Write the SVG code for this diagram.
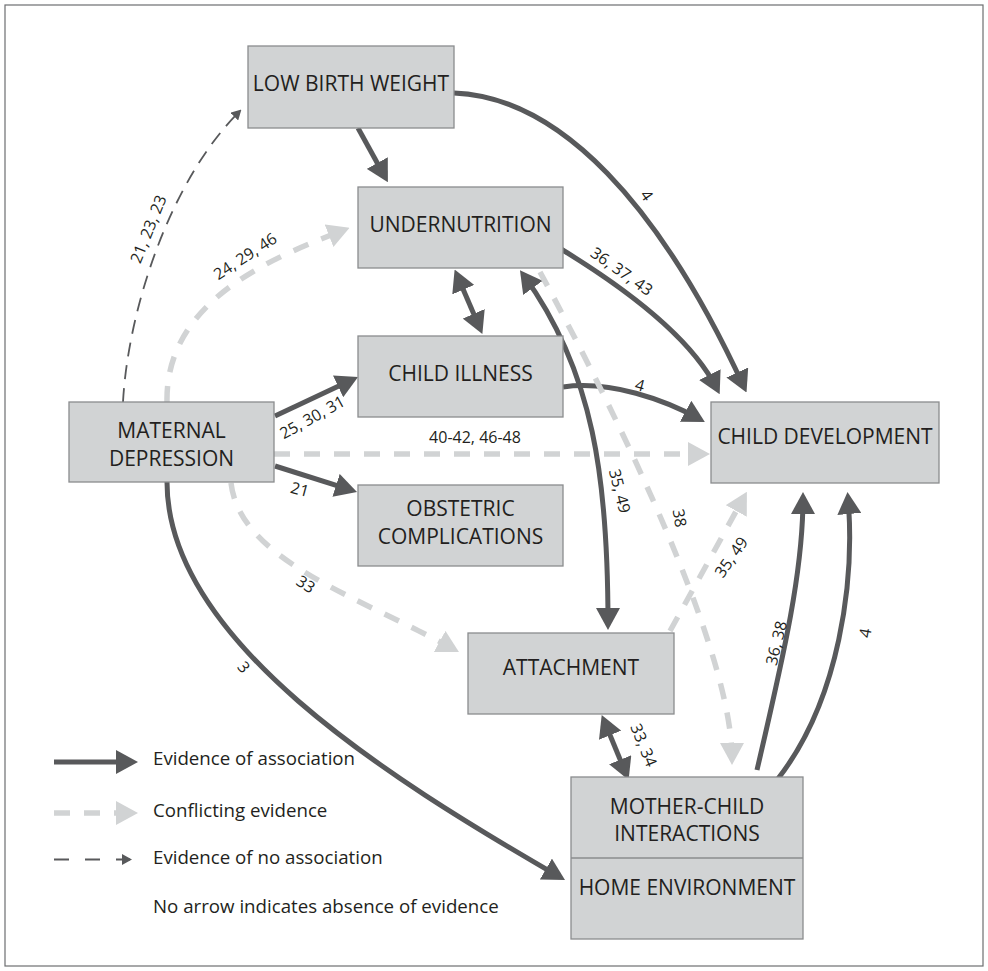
<svg xmlns="http://www.w3.org/2000/svg" width="988" height="971" viewBox="0 0 988 971">
<style>
.frame{fill:#ffffff;stroke:#6d6e71;stroke-width:1.2}
.n rect{fill:#d1d3d4;stroke:#8a8c8e;stroke-width:1.3}
.n line{stroke:#8a8c8e;stroke-width:1.3}
.nl{font-family:"Open Sans","Liberation Sans",sans-serif;font-size:21px;fill:#231f20;text-anchor:middle}
.dk{fill:none;stroke:#58595b;stroke-width:5}
.lt{fill:none;stroke:#d1d3d4;stroke-width:5.5;stroke-dasharray:16 14}
.th{fill:none;stroke:#58595b;stroke-width:1.8;stroke-dasharray:14 9}
.thl{fill:none;stroke:#58595b;stroke-width:1.8;stroke-dasharray:15 16}
.el{font-family:"Open Sans","Liberation Sans",sans-serif;font-size:16px;fill:#231f20;text-anchor:middle;dominant-baseline:central}
.lg{font-family:"Open Sans","Liberation Sans",sans-serif;font-size:18.7px;fill:#231f20}
</style>
<defs>
<marker id="hd" markerUnits="userSpaceOnUse" viewBox="0 0 22 24" markerWidth="22" markerHeight="24" refX="16" refY="12" orient="auto-start-reverse"><path d="M0,0 L22,12 L0,24 Z" fill="#58595b"/></marker>
<marker id="hl" markerUnits="userSpaceOnUse" viewBox="0 0 22 24" markerWidth="22" markerHeight="24" refX="16" refY="12" orient="auto-start-reverse"><path d="M0,0 L22,12 L0,24 Z" fill="#d1d3d4"/></marker>
<marker id="ht" markerUnits="userSpaceOnUse" viewBox="0 0 10 11" markerWidth="10" markerHeight="11" refX="8" refY="5.5" orient="auto"><path d="M0,0 L10,5.5 L0,11 Z" fill="#58595b"/></marker>
</defs>
<rect class="frame" x="5" y="5" width="978" height="961"/>

<g id="connectors">
<path class="th" d="M123,402 C128,310 170,180 240,111" marker-end="url(#ht)"/>
<path class="lt" d="M167,402 C165,300 274,257 344,230" marker-end="url(#hl)"/>
<path class="dk" d="M358,128 L385,177" marker-end="url(#hd)"/>
<path class="dk" d="M454,93 C560,97 660,205 744,387" marker-end="url(#hd)"/>
<path class="dk" d="M561,249 C620,285 690,335 717,389" marker-end="url(#hd)"/>
<path class="dk" d="M457,275 L480,328.5" marker-start="url(#hd)" marker-end="url(#hd)"/>
<path class="dk" d="M523.5,275 C594,372 608,480 608,624" marker-start="url(#hd)" marker-end="url(#hd)"/>
<path class="dk" d="M563,387 C610,380 665,400 699.6,419" marker-end="url(#hd)"/>
<path class="dk" d="M275,416 L352.6,379.6" marker-end="url(#hd)"/>
<path class="dk" d="M275,466 L351.3,490.2" marker-end="url(#hd)"/>
<path class="lt" d="M274,454 L704,454" marker-end="url(#hl)"/>
<path class="lt" d="M231,483 C240,560 357,596 453.7,649.1" marker-end="url(#hl)"/>
<path class="dk" d="M167,482 C167,640 386.6,777 559.8,877" marker-end="url(#hd)"/>
<path class="lt" d="M670,631 L744,497" marker-end="url(#hl)"/>
<path class="lt" d="M540,272 C620,420 732,650 732,759" marker-end="url(#hl)"/>
<path class="dk" d="M604,720.5 L626.3,774.5" marker-start="url(#hd)" marker-end="url(#hd)"/>
<path class="dk" d="M757,770 C785,650 803,570 803,498" marker-end="url(#hd)"/>
<path class="dk" d="M777,780 C840,700 855,580 848,498" marker-end="url(#hd)"/>

<text class="el" transform="translate(148,229) rotate(-68)">21, 23, 23</text>
<text class="el" transform="translate(245,256) rotate(-33)">24, 29, 46</text>
<text class="el" transform="translate(647,195) rotate(55)">4</text>
<text class="el" transform="translate(622,271) rotate(35)">36, 37, 43</text>
<text class="el" transform="translate(620,491) rotate(76)">35, 49</text>
<text class="el" transform="translate(640,385) rotate(15)">4</text>
<text class="el" transform="translate(312,417) rotate(-29)">25, 30, 31</text>
<text class="el" transform="translate(300,489) rotate(15)">21</text>
<text class="el" x="475" y="437">40-42, 46-48</text>
<text class="el" transform="translate(306,584) rotate(33)">33</text>
<text class="el" transform="translate(244,667) rotate(50)">3</text>
<text class="el" transform="translate(731,557) rotate(-55)">35, 49</text>
<text class="el" transform="translate(680,518) rotate(80)">38</text>
<text class="el" transform="translate(644,745) rotate(68)">33, 34</text>
<text class="el" transform="translate(776,643) rotate(-76)">36, 38</text>
<text class="el" transform="translate(865,633) rotate(-80)">4</text>
</g>

<g id="lbw" class="n"><rect x="248" y="46" width="206" height="82"/><text class="nl" x="351" y="91">LOW BIRTH WEIGHT</text></g>
<g id="undernutrition" class="n"><rect x="358" y="187" width="205" height="81"/><text class="nl" x="460.5" y="232">UNDERNUTRITION</text></g>
<g id="child-illness" class="n"><rect x="358" y="336" width="205" height="81"/><text class="nl" x="460.5" y="381">CHILD ILLNESS</text></g>
<g id="maternal-depression" class="n"><rect x="69" y="402" width="205" height="80"/><text class="nl" x="171.5" y="438">MATERNAL</text><text class="nl" x="171.5" y="466">DEPRESSION</text></g>
<g id="obstetric" class="n"><rect x="358" y="485" width="205" height="81"/><text class="nl" x="460.5" y="516">OBSTETRIC</text><text class="nl" x="460.5" y="544">COMPLICATIONS</text></g>
<g id="child-development" class="n"><rect x="711" y="402" width="228" height="81"/><text class="nl" x="825" y="444">CHILD DEVELOPMENT</text></g>
<g id="attachment" class="n"><rect x="468" y="633" width="206" height="81"/><text class="nl" x="571" y="675">ATTACHMENT</text></g>
<g id="mother-child" class="n"><rect x="571" y="777" width="232" height="162"/><line x1="571" y1="858" x2="803" y2="858"/><text class="nl" x="687" y="813.5">MOTHER-CHILD</text><text class="nl" x="687" y="841">INTERACTIONS</text><text class="nl" x="687" y="895">HOME ENVIRONMENT</text></g>

<g id="legend">
<path class="dk" d="M54,762 L132,762" marker-end="url(#hd)"/>
<path class="lt" d="M54,813 L132,813" marker-end="url(#hl)"/>
<path class="thl" d="M54,859.5 L130,859.5" marker-end="url(#ht)"/>
<text class="lg" x="153" y="765">Evidence of association</text>
<text class="lg" x="153" y="817">Conflicting evidence</text>
<text class="lg" x="153" y="864">Evidence of no association</text>
<text class="lg" x="153" y="913">No arrow indicates absence of evidence</text>
</g>
</svg>
